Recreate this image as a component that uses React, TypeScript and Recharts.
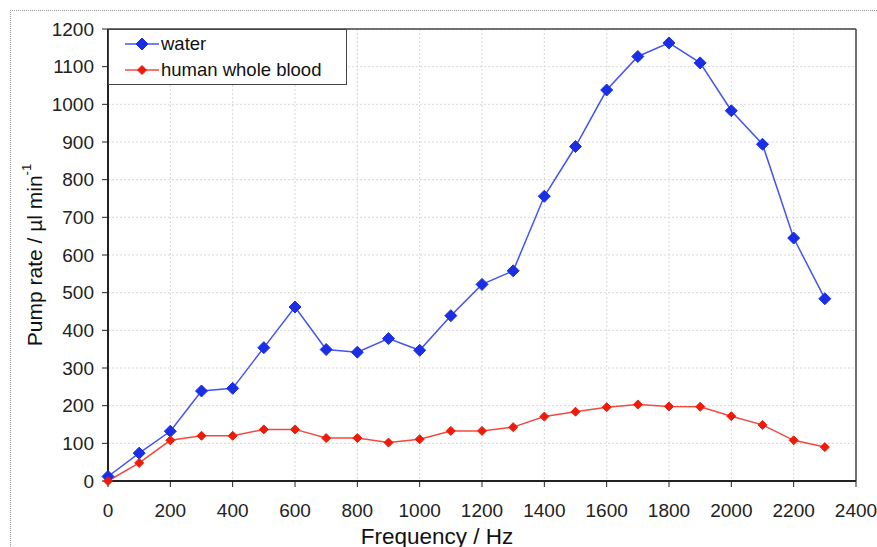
// @ts-nocheck
import { LineChart, Line, XAxis, YAxis, CartesianGrid, ReferenceLine } from 'recharts';

const frequency = [0, 100, 200, 300, 400, 500, 600, 700, 800, 900, 1000, 1100, 1200, 1300, 1400, 1500, 1600, 1700, 1800, 1900, 2000, 2100, 2200, 2300];
const water = [12, 74, 132, 239, 246, 354, 462, 349, 342, 378, 347, 439, 522, 558, 756, 888, 1038, 1127, 1163, 1110, 983, 894, 645, 484];
const blood = [0, 48, 108, 120, 120, 137, 137, 114, 114, 102, 111, 133, 133, 143, 171, 184, 196, 203, 198, 197, 172, 149, 108, 90];

const xTicks = [0, 200, 400, 600, 800, 1000, 1200, 1400, 1600, 1800, 2000, 2200, 2400];
const yTicks = [0, 100, 200, 300, 400, 500, 600, 700, 800, 900, 1000, 1100, 1200];

const data = frequency.map((f, i) => ({ f, water: water[i], blood: blood[i] }));

const FONT = '"Liberation Sans", Arial, sans-serif';

const Diamond = ({ cx, cy, r, fill }) => {
  if (cx == null || cy == null) return null;
  return (
    <polygon
      points={`${cx},${cy - r} ${cx + r},${cy} ${cx},${cy + r} ${cx - r},${cy}`}
      fill={fill}
      stroke={fill}
      strokeWidth={1}
    />
  );
};

const legendItems = [
  { label: 'water', color: '#1a2ee6', line: '#4455ee', r: 6 },
  { label: 'human whole blood', color: '#ee1a0a', line: '#f04a40', r: 4.5 },
];

const LegendBox = () => (
  <div
    style={{
      position: 'absolute',
      left: 108,
      top: 29,
      width: 239,
      height: 56,
      boxSizing: 'border-box',
      border: '1px solid #444',
      background: '#fff',
      fontFamily: FONT,
      fontSize: 18.5,
      color: '#111',
      paddingTop: 1,
    }}
  >
    {legendItems.map((e) => (
      <div key={e.label} style={{ display: 'flex', alignItems: 'center', height: 26, lineHeight: '26px' }}>
        <svg width={50} height={20} style={{ marginLeft: 2, flex: 'none' }}>
          <line x1={14} y1={10} x2={48} y2={10} stroke={e.line} strokeWidth={1.5} />
          <Diamond cx={31} cy={10} r={e.r} fill={e.color} />
        </svg>
        <span style={{ whiteSpace: 'nowrap' }}>{e.label}</span>
      </div>
    ))}
  </div>
);

const YLabel = () => {
  const cx = 34;
  const cy = 255;
  return (
    <text
      x={cx}
      y={cy}
      transform={`rotate(-90, ${cx}, ${cy})`}
      textAnchor="middle"
      dominantBaseline="central"
      fontFamily={FONT}
      fontSize={21}
      fill="#111"
    >
      Pump rate / µl min<tspan dy={-8} fontSize={13}>-1</tspan>
    </text>
  );
};

const XLabel = () => (
  <text x={437} y={544} textAnchor="middle" fontFamily={FONT} fontSize={22.5} fill="#111">
    Frequency / Hz
  </text>
);

export default function App() {
  return (
    <div style={{ position: 'absolute', left: 0, top: 0, width: 877, height: 547, background: '#fff', overflow: 'hidden' }}>
      <div
        style={{
          position: 'absolute',
          left: 10,
          top: 10,
          width: 880,
          height: 560,
          borderLeft: '1px dotted #999',
          borderTop: '1px dotted #999',
        }}
      />
      <LineChart
        width={877}
        height={547}
        data={data}
        margin={{ top: 29, right: 21, bottom: 36, left: 48 }}
        style={{ position: 'absolute', left: 0, top: 0 }}
      >
        <CartesianGrid stroke="#d8d8d8" strokeDasharray="2 2" vertical horizontal />
        <XAxis
          type="number"
          dataKey="f"
          domain={[0, 2400]}
          ticks={xTicks}
          interval={0}
          height={30}
          axisLine={{ stroke: '#222', strokeWidth: 2 }}
          tickLine={{ stroke: '#222' }}
          tickSize={6}
          tick={{ fontFamily: FONT, fontSize: 19, fill: '#222', dy: 15 }}
          label={<XLabel />}
        />
        <YAxis
          type="number"
          domain={[0, 1200]}
          ticks={yTicks}
          interval={0}
          width={60}
          axisLine={{ stroke: '#222', strokeWidth: 2 }}
          tickLine={{ stroke: '#222' }}
          tickSize={6}
          tick={{ fontFamily: FONT, fontSize: 19, fill: '#222', dx: -6 }}
          label={<YLabel />}
        />
        <ReferenceLine y={1200} stroke="#444" strokeWidth={1.5} />
        <ReferenceLine x={2400} stroke="#444" strokeWidth={1.5} />
        <Line
          type="linear"
          dataKey="water"
          stroke="#4455ee"
          strokeWidth={1.5}
          dot={(p) => <Diamond key={`w${p.index}`} cx={p.cx} cy={p.cy} r={6} fill="#1a2ee6" />}
          isAnimationActive={false}
        />
        <Line
          type="linear"
          dataKey="blood"
          stroke="#f04a40"
          strokeWidth={1.5}
          dot={(p) => <Diamond key={`b${p.index}`} cx={p.cx} cy={p.cy} r={4.5} fill="#ee1a0a" />}
          isAnimationActive={false}
        />
      </LineChart>
      <LegendBox />
    </div>
  );
}
